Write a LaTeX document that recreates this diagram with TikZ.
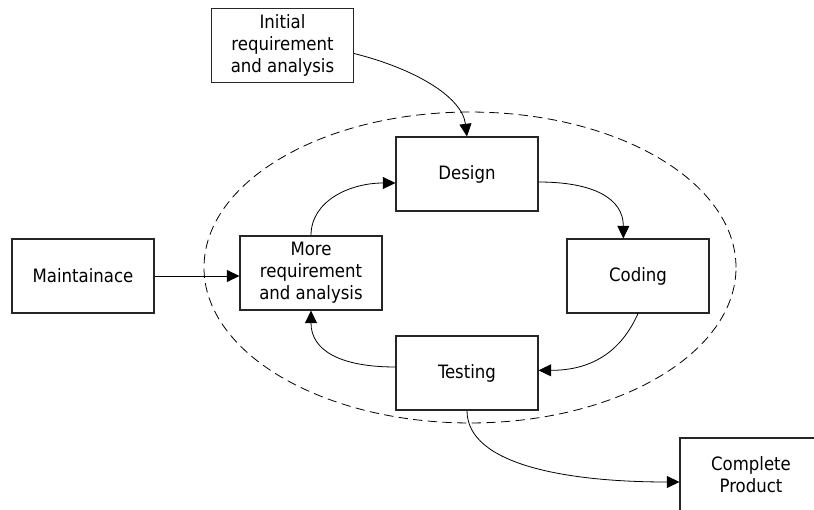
\documentclass[tikz,border=0pt]{standalone}
\usepackage{fontspec}
\setmainfont{DejaVu Sans Condensed}
\usetikzlibrary{arrows.meta}
\begin{document}
\begin{tikzpicture}[x=0.75pt,y=-0.75pt,
  box/.style={draw=black!85,line width=0.8pt,minimum width=106.5pt,minimum height=55.5pt,
    inner sep=0pt,align=center,font=\fontsize{13.8}{16.5}\selectfont},
  conn/.style={line width=0.6pt,-{Triangle[length=9.5pt,width=9pt]}}]
\useasboundingbox (0,0) rectangle (814,510);
\clip (0,0) rectangle (814,510);
\draw[line width=0.6pt,dash pattern=on 7pt off 4pt] (470,267.5) ellipse [x radius=199.5pt,y radius=116.6pt];
\node[box] (init) at (282.5,45.5) {Initial\\requirement\\and analysis};
\node[box] (design) at (467,174) {Design};
\node[box] (coding) at (638,276) {Coding};
\node[box] (testing) at (467,373) {Testing};
\node[box] (more) at (311,273) {More\\requirement\\and analysis};
\node[box] (maint) at (83,276) {Maintainace};
\node[box] (complete) at (751,475) {Complete\\Product};
\draw[conn] ([yshift=-6pt]init.east) .. controls +(60,15) and +(-5,-40) .. (design.north);
\draw[conn] (more.north) .. controls +(0,-35) and +(-45,0) .. ([yshift=-6.75pt]design.west);
\draw[conn] ([yshift=-6pt]design.east) .. controls +(55,0) and +(0,-40) .. ([xshift=-11pt]coding.north);
\draw[conn] (coding.south) .. controls +(-20,45) and +(45,0) .. ([yshift=2pt]testing.east);
\draw[conn] ([yshift=4.5pt]testing.west) .. controls +(-55,0) and +(0,40) .. (more.south);
\draw[conn] (maint.east) -- (more.west |- maint.east);
\draw[conn] (testing.south) .. controls +(0,55) and +(-110,0) .. ([yshift=-5.25pt]complete.west);
\end{tikzpicture}
\end{document}
